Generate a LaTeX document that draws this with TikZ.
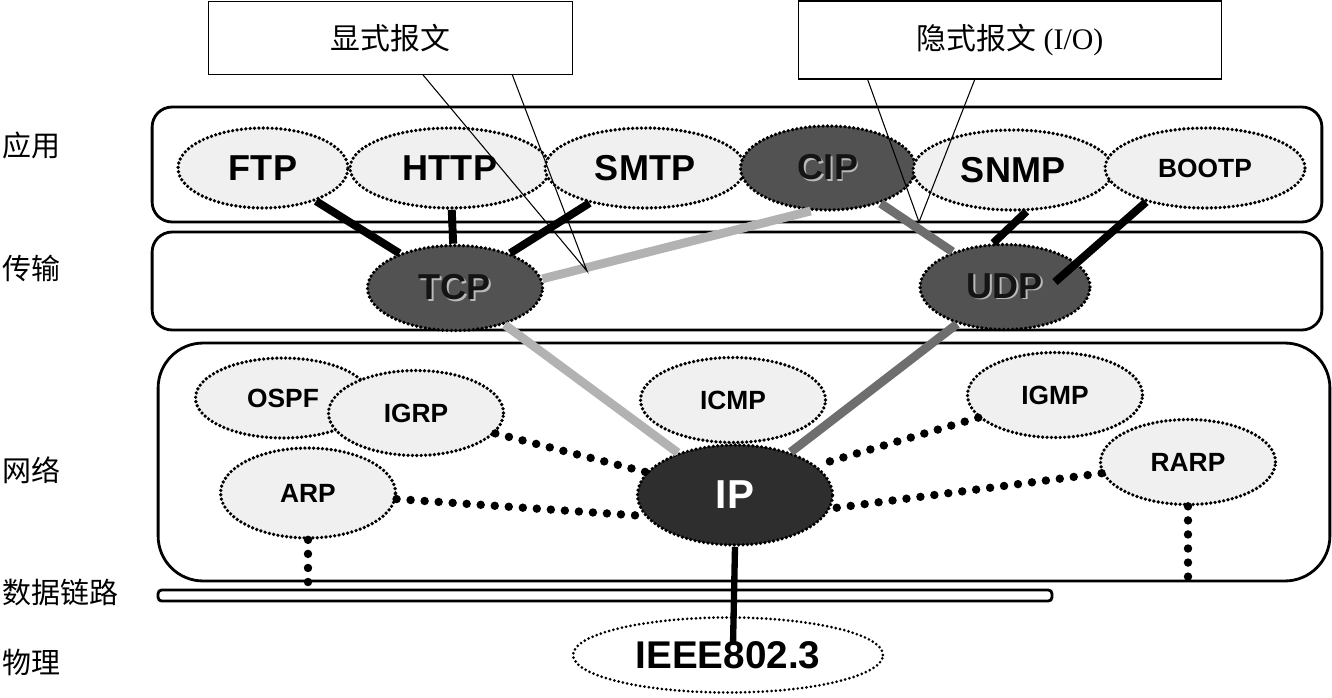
\documentclass[tikz,border=0pt]{standalone}
\usepackage{fontspec}
\setmainfont{Liberation Serif}
\setsansfont{Liberation Sans}
\newfontfamily\cjk{Noto Sans CJK SC}
\usetikzlibrary{shapes.geometric,calc}

% raised light copy behind dark letters
\newcommand{\embossed}[1]{\makebox[0pt][l]{\hspace{0.8pt}\raisebox{-0.8pt}{\color{gray!55}#1}}#1}

\begin{document}
\begin{tikzpicture}[x=0.02cm, y=-0.02cm,
    layerbox/.style={rectangle, draw=black, line width=1.6pt, rounded corners=0.4cm, inner sep=0pt},
    proto/.style={ellipse, draw=black, fill=gray!12, line width=2.1pt, dash pattern=on 0pt off 2.5pt, line cap=round, inner sep=0pt, minimum width=4cm, minimum height=1.6cm, font=\sffamily\bfseries\fontsize{20.5}{20.5}\selectfont},
    small/.style={minimum width=3.5cm, minimum height=1.7cm, font=\sffamily\bfseries\fontsize{15}{15}\selectfont},
    core/.style={fill=black!68, text=black!92},
    layername/.style={anchor=west, inner sep=1pt, font=\cjk\fontsize{16.5}{16.5}\selectfont},
    callout/.style={rectangle, draw=black, line width=0.6pt, inner sep=0pt, font=\fontsize{17}{17}\selectfont},
    pointer/.style={line width=0.6pt},
    solidlink/.style={line width=4.5pt},
    lightlink/.style={draw=gray!60, line width=5pt},
    midlink/.style={draw=black!57, line width=5pt},
    dotlink/.style={line width=4.8pt, dash pattern=on 0pt off 8pt, line cap=round}
]
\useasboundingbox (0,0) rectangle (1332,697);

% Layer names
\node[layername] (lapp) at (0,145) {应用};
\node[layername] (ltrans) at (0,268) {传输};
\node[layername] (lnet) at (0,470) {网络};
\node[layername] (llink) at (0,592) {数据链路};
\node[layername] (lphys) at (0,662) {物理};

% Layer frames
\node[layerbox, minimum width=23.4cm, minimum height=2.3cm] (appbox) at (737,164.5) {};
\node[layerbox, minimum width=23.4cm, minimum height=1.96cm] (transbox) at (737,281) {};
\node[layerbox, rounded corners=0.9cm, minimum width=23.44cm, minimum height=4.76cm] (netbox) at (744,462) {};
\node[layerbox, rounded corners=2pt, minimum width=17.88cm, minimum height=0.22cm] (dlink) at (605,595.5) {};

% Application protocols
\node[proto, minimum width=3.4cm] (ftp) at (263,168) {FTP};
\node[proto] (http) at (450,168) {HTTP};
\node[proto] (smtp) at (645,168) {SMTP};
\node[proto, core, minimum width=3.5cm, minimum height=1.68cm] (cip) at (828,168) {\embossed{CIP}};
\node[proto] (snmp) at (1013,170) {SNMP};
\node[proto, small, minimum width=4cm, minimum height=1.6cm] (bootp) at (1205,168) {BOOTP};

% Transport protocols
\node[proto, core, minimum width=3.5cm, minimum height=1.7cm] (tcp) at (455,288) {\embossed{TCP}};
\node[proto, core, minimum width=3.4cm, minimum height=1.7cm] (udp) at (1005,287) {\embossed{UDP}};

% Network protocols
\node[proto, small, minimum height=1.6cm] (ospf) at (283,398) {OSPF};
\node[proto, small] (igrp) at (416,413) {IGRP};
\node[proto, small, minimum width=3.7cm] (icmp) at (733,400) {ICMP};
\node[proto, small] (igmp) at (1055,395) {IGMP};
\node[proto, small] (rarp) at (1188,462) {RARP};
\node[proto, small, minimum height=1.8cm] (arp) at (308,493) {ARP};
\node[proto, fill=black!82, text=white, minimum width=3.9cm, minimum height=2cm, font=\sffamily\bfseries\fontsize{23}{23}\selectfont] (ip) at (735,495) {IP};

% Physical
\node[proto, fill=white, line width=1.7pt, minimum width=6.2cm, minimum height=1.5cm, font=\sffamily\bfseries\fontsize{22}{22}\selectfont] (ieee) at (728,655) {IEEE802.3};

\coordinate (udpin) at (1055,282);
\coordinate (ieeein) at (733,645);
\coordinate (rarpend) at (1188,590);

% Application to transport
\draw[solidlink] (ftp) -- (tcp);
\draw[solidlink] (http) -- (tcp);
\draw[solidlink] (smtp) -- (tcp);
\draw[lightlink] (cip.-112) -- (tcp.6);
\draw[midlink] (cip) -- (udp);
\draw[solidlink] (snmp.-72) -- (udp.105);
\draw[solidlink] (bootp.-150) -- (udpin);

% Transport to network
\draw[lightlink] (tcp) -- (ip);
\draw[midlink] (udp) -- (ip);

% Network links
\draw[dotlink] (igrp) -- (ip);
\draw[dotlink] (arp) -- (ip.193);
\draw[dotlink] (igmp) -- (ip.20);
\draw[dotlink] (rarp) -- (ip.-8);
\draw[dotlink] (arp.south) -- (arp.south |- dlink.north);
\draw[dotlink] (rarp.south) -- (rarpend);
\draw[line width=3.6pt] (ip.south) -- (ieeein);

% Callouts
\node[callout, minimum width=7.3cm, minimum height=1.46cm] (expl) at (390.5,38) {\cjk 显式报文};
\node[callout, minimum width=8.48cm, minimum height=1.56cm] (impl) at (1010,40) {{\cjk 隐式报文} (I/O)};
\coordinate (expltip) at (587,271);
\coordinate (impltip) at (919,222);
\draw[pointer] ($(expl.south west)!0.589!(expl.south east)$) -- (expltip) -- ($(expl.south west)!0.833!(expl.south east)$);
\draw[pointer] ($(impl.south west)!0.165!(impl.south east)$) -- (impltip) -- ($(impl.south west)!0.417!(impl.south east)$);

\end{tikzpicture}
\end{document}
